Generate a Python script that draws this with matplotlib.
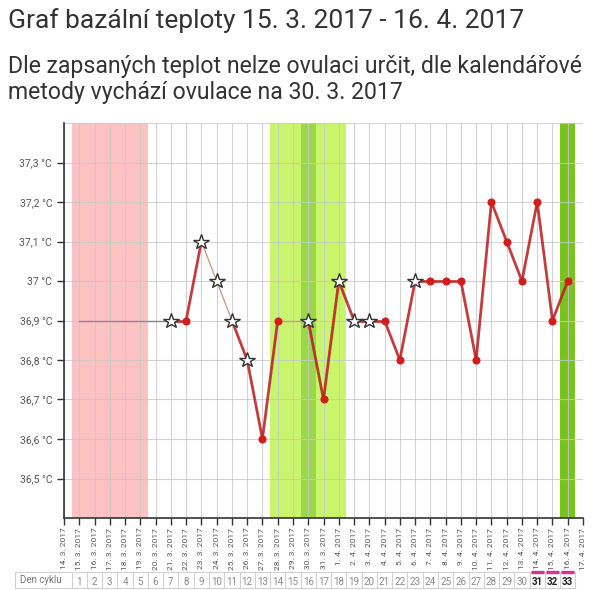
import matplotlib
matplotlib.use("Agg")
import matplotlib.pyplot as plt
import numpy as np

plt.rcParams['font.family'] = ['Roboto', 'DejaVu Sans']

# --- data ---
dates = ['14. 3. 2017', '15. 3. 2017', '16. 3. 2017', '17. 3. 2017', '18. 3. 2017',
         '19. 3. 2017', '20. 3. 2017', '21. 3. 2017', '22. 3. 2017', '23. 3. 2017',
         '24. 3. 2017', '25. 3. 2017', '26. 3. 2017', '27. 3. 2017', '28. 3. 2017',
         '29. 3. 2017', '30. 3. 2017', '31. 3. 2017', '1. 4. 2017', '2. 4. 2017',
         '3. 4. 2017', '4. 4. 2017', '5. 4. 2017', '6. 4. 2017', '7. 4. 2017',
         '8. 4. 2017', '9. 4. 2017', '10. 4. 2017', '11. 4. 2017', '12. 4. 2017',
         '13. 4. 2017', '14. 4. 2017', '15. 4. 2017', '16. 4. 2017', '17. 4. 2017']

# measured days (date, temperature, marker kind: 's' = star, 'd' = dot)
meas_dates = ['21. 3. 2017', '22. 3. 2017', '23. 3. 2017', '24. 3. 2017', '25. 3. 2017',
              '26. 3. 2017', '27. 3. 2017', '28. 3. 2017', '30. 3. 2017', '31. 3. 2017',
              '1. 4. 2017', '2. 4. 2017', '3. 4. 2017', '4. 4. 2017', '5. 4. 2017',
              '6. 4. 2017', '7. 4. 2017', '8. 4. 2017', '9. 4. 2017', '10. 4. 2017',
              '11. 4. 2017', '12. 4. 2017', '13. 4. 2017', '14. 4. 2017', '15. 4. 2017',
              '16. 4. 2017']
temps = [36.9, 36.9, 37.1, 37.0, 36.9, 36.8, 36.6, 36.9, 36.9, 36.7,
         37.0, 36.9, 36.9, 36.9, 36.8, 37.0, 37.0, 37.0, 37.0, 36.8,
         37.2, 37.1, 37.0, 37.2, 36.9, 37.0]
kinds = ['s', 'd', 's', 's', 's', 's', 'd', 'd', 's', 'd',
         's', 's', 's', 'd', 'd', 's', 'd', 'd', 'd', 'd',
         'd', 'd', 'd', 'd', 'd', 'd']
# segments starting at these days are drawn thin
thin_from = ['23. 3. 2017', '24. 3. 2017', '28. 3. 2017']

# grey guide line before the first measurement
guide_dates = ['15. 3. 2017', '21. 3. 2017']
guide_temps = [36.9, 36.9]

period_days = ['15. 3. 2017', '16. 3. 2017', '17. 3. 2017', '18. 3. 2017', '19. 3. 2017']
fertile_days = ['28. 3. 2017', '29. 3. 2017', '30. 3. 2017', '31. 3. 2017', '1. 4. 2017']
ovulation_day = ['30. 3. 2017']
next_cycle_day = ['16. 4. 2017']

cycle_dates = dates[1:34]
cycle_days = list(range(1, 34))
cycle_marked = [31, 32, 33]

yticks = [36.5, 36.6, 36.7, 36.8, 36.9, 37.0, 37.1, 37.2, 37.3]

# --- figure ---
pos = {d: i for i, d in enumerate(dates)}

fig = plt.figure(figsize=(6, 5.9), dpi=100)
ax = fig.add_axes([64 / 600, 1 - 518 / 590, (583 - 64) / 600, (518 - 123) / 590])

fig.text(8 / 600, 1 - 28 / 590, 'Graf bazální teploty 15. 3. 2017 - 16. 4. 2017',
         fontsize=19, color='#333333', va='baseline')
fig.text(8 / 600, 1 - 73 / 590, 'Dle zapsaných teplot nelze ovulaci určit, dle kalendářové',
         fontsize=16.6, color='#333333', va='baseline')
fig.text(8 / 600, 1 - 99 / 590, 'metody vychází ovulace na 30. 3. 2017',
         fontsize=16.6, color='#333333', va='baseline')

# bands
def band(days, color):
    xs = [pos[d] for d in days]
    ax.axvspan(min(xs) - 0.5, max(xs) + 0.5, color=color, lw=0, zorder=0)

band(period_days, '#ffc2c2')
band(fertile_days, '#c8f56c')
band(ovulation_day, '#9ad84a')
band(next_cycle_day, '#78c41c')

# grid
for i in range(len(dates)):
    ax.axvline(i, color='#c8c8c8', lw=0.8, alpha=0.8, zorder=1)
for t in yticks + [37.4]:
    ax.axhline(t, color='#c8c8c8', lw=0.8, alpha=0.8, zorder=1)

# guide line
ax.plot([pos[d] for d in guide_dates], guide_temps, color='#888888', lw=1, zorder=2)

# temperature line
xs = [pos[d] for d in meas_dates]
for k in range(len(xs) - 1):
    thin = meas_dates[k] in thin_from
    ax.plot(xs[k:k + 2], temps[k:k + 2],
            color='#c9a08e' if thin else '#b81c1c',
            lw=1.0 if thin else 2.0, alpha=1 if thin else 0.85, zorder=3,
            solid_capstyle='round')

dx = [x for x, k in zip(xs, kinds) if k == 'd']
dy = [t for t, k in zip(temps, kinds) if k == 'd']
sx = [x for x, k in zip(xs, kinds) if k == 's']
sy = [t for t, k in zip(temps, kinds) if k == 's']
ax.plot(dx, dy, 'o', color='#d41c1c', ms=4.8, mec='#d41c1c', zorder=4)
ax.plot(sx, sy, '*', color='white', ms=11.5, mec='#333333', mew=1.0, zorder=5)

ax.set_xlim(0, len(dates) - 1)
ax.set_ylim(36.4, 37.4)
ax.set_xticks(range(len(dates)))
ax.set_xticklabels(dates, rotation=90, fontsize=6.0, color='#555555')
ax.set_yticks(yticks)
ax.set_yticklabels([('%g' % t).replace('.', ',') + ' °C' for t in yticks],
                   fontsize=7.5, color='#555555')
ax.tick_params(axis='both', direction='out', length=5, width=1, color='#333333')
ax.tick_params(axis='x', pad=2)
for s in ['top', 'right']:
    ax.spines[s].set_visible(False)
for s in ['left', 'bottom']:
    ax.spines[s].set_color('#333333')
    ax.spines[s].set_linewidth(1.2)

# cycle-day row
tr = ax.get_xaxis_transform()
y_top, y_bot = (518 - 572) / 395, (518 - 588) / 395
y_mid = (y_top + y_bot) / 2
x_left = (15 - 64) / ((583 - 64) / 34)
x_right = pos[cycle_dates[-1]] + 0.5
for yy in (y_top, y_bot):
    ax.plot([x_left, x_right], [yy, yy], color='#d0d0d0', lw=0.8, transform=tr, clip_on=False)
ax.plot([x_left, x_left], [y_top, y_bot], color='#d0d0d0', lw=0.8, transform=tr, clip_on=False)
ax.text(x_left + 0.35, y_mid, 'Den cyklu', transform=tr, fontsize=7, color='#777777',
        va='center', ha='left')
for d, c in zip(cycle_dates, cycle_days):
    x = pos[d]
    ax.plot([x - 0.5, x - 0.5], [y_top, y_bot], color='#d0d0d0', lw=0.8, transform=tr, clip_on=False)
    marked = c in cycle_marked
    if marked:
        ax.plot([x - 0.42, x + 0.42], [y_top, y_top], color='#d6338a', lw=2.4,
                transform=tr, clip_on=False, solid_capstyle='butt', zorder=6)
    ax.text(x, y_mid - 0.004, str(c), transform=tr, fontsize=7,
            color='#222222' if marked else '#888888',
            fontweight='bold' if marked else 'normal', ha='center', va='center')
ax.plot([x_right, x_right], [y_top, y_bot], color='#d0d0d0', lw=0.8, transform=tr, clip_on=False)

fig.savefig('out.png', dpi=100)
